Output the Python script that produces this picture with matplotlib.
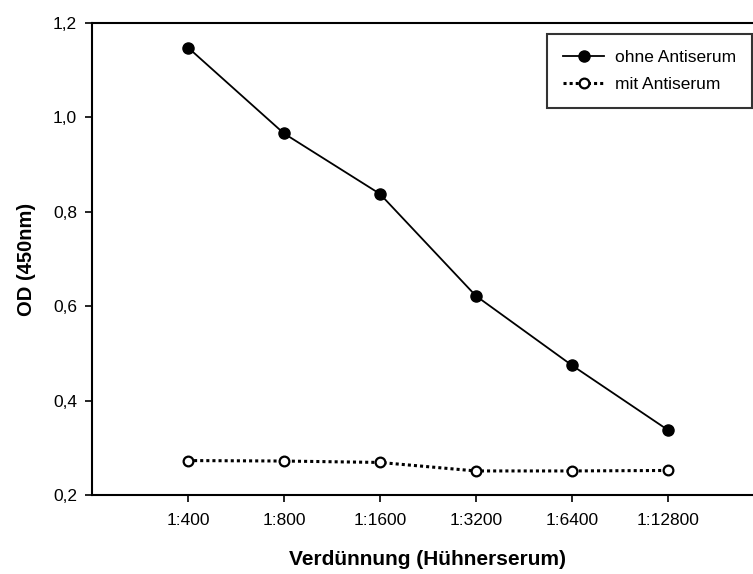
import matplotlib.pyplot as plt
import numpy as np

plt.rcParams['font.family'] = ['Liberation Sans', 'DejaVu Sans']

dilutions = ['1:400', '1:800', '1:1600', '1:3200', '1:6400', '1:12800']
ohne = [1.148, 0.966, 0.838, 0.622, 0.475, 0.338]
mit = [0.273, 0.272, 0.269, 0.251, 0.251, 0.252]
yticks = [0.2, 0.4, 0.6, 0.8, 1.0, 1.2]

x = np.arange(len(dilutions))

fig = plt.figure(figsize=(7.53, 5.74), dpi=100)
ax = fig.add_axes([0.1222, 0.1376, 0.892, 0.8224])

ax.plot(x, ohne, '-', color='black', lw=1.3, marker='o', ms=8,
        mfc='black', mec='black', label='ohne Antiserum')
ax.plot(x, mit, color='black', lw=2.2, ls=(0, (1, 1)), marker='o', ms=7,
        mfc='white', mec='black', mew=1.6, label='mit Antiserum')

ax.set_xlim(-1, 6)
ax.set_ylim(0.2, 1.2)
ax.set_xticks(x)
ax.set_xticklabels(dilutions)
ax.set_yticks(yticks)
ax.set_yticklabels([('%.1f' % v).replace('.', ',') for v in yticks])
ax.tick_params(direction='out', length=4.8, width=1.2, labelsize=12.5, pad=6)
ax.tick_params(axis='x', pad=8)
for s in ax.spines.values():
    s.set_linewidth(1.5)

ax.set_xlabel('Verdünnung (Hühnerserum)', fontsize=15, fontweight='bold', labelpad=16)
ax.set_ylabel('OD (450nm)', fontsize=14.5, fontweight='bold', labelpad=12)

leg = ax.legend(loc='upper right', bbox_to_anchor=(0.982, 0.977), borderaxespad=0,
                fontsize=12.5, frameon=True, fancybox=False, edgecolor='black',
                handlelength=2.4, handletextpad=0.6, borderpad=0.9, labelspacing=0.7)
leg.get_frame().set_linewidth(1.5)

fig.savefig('out.png', dpi=100)
